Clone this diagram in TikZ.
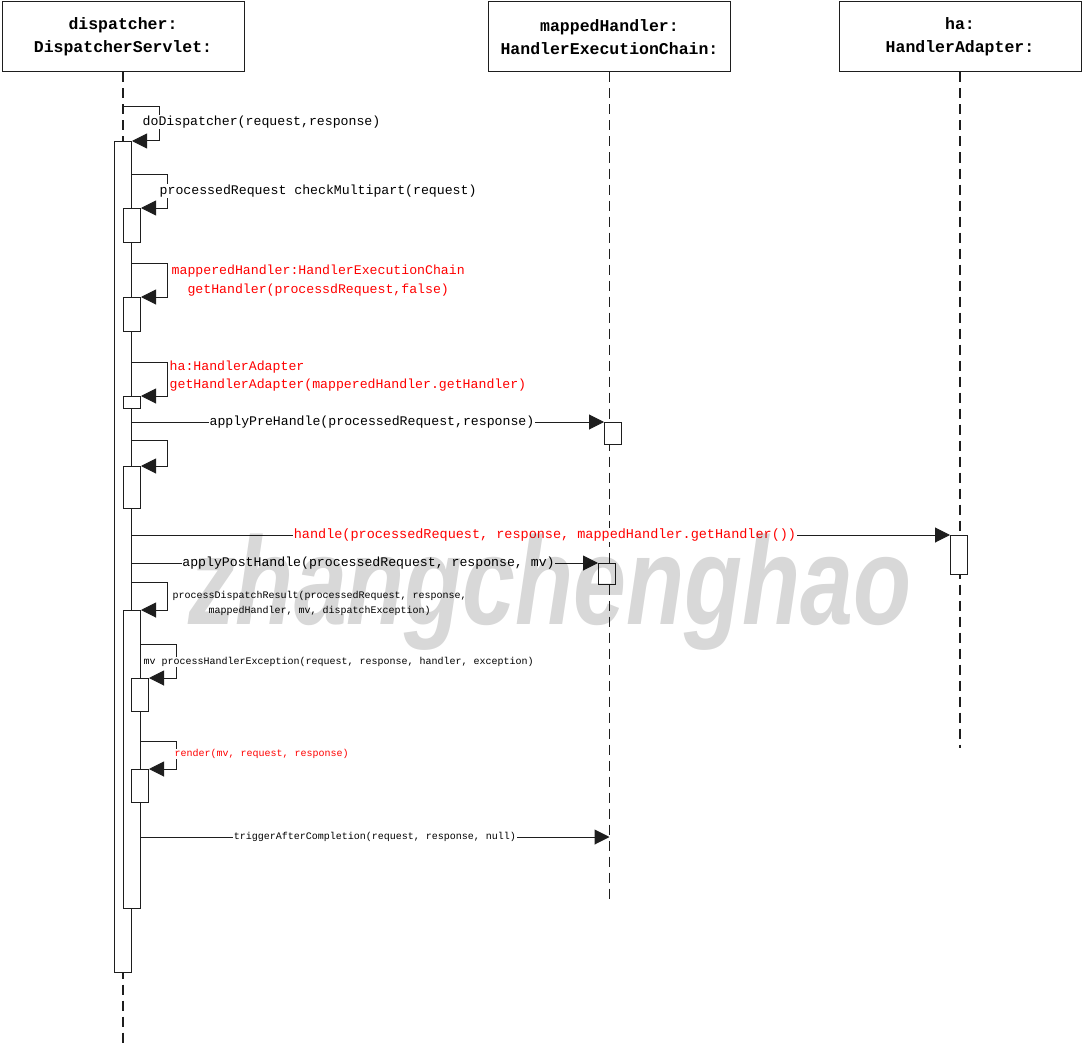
\documentclass[tikz,border=0pt]{standalone}
\usepackage{fontspec}
\setmainfont{Liberation Mono}
\newfontfamily\wmfont{Liberation Sans}
\usetikzlibrary{arrows.meta}
\definecolor{msgred}{RGB}{255,0,0}
\definecolor{wmgray}{RGB}{216,216,216}
\definecolor{ln}{RGB}{30,30,30}
\begin{document}
\begin{tikzpicture}[x=1pt,y=-1pt,
  hdr/.style={draw=ln, line width=1pt, minimum width=242pt, minimum height=70pt, align=center,
    font=\fontsize{16.5}{23}\selectfont\bfseries, inner sep=0pt},
  life/.style={draw=ln, dash pattern=on 10pt off 6pt, line width=1.4pt},
  actbar/.style={draw=ln, fill=white, line width=1pt, minimum width=17pt, inner sep=0pt, anchor=north west},
  msg/.style={draw=ln, line width=1pt, -{Triangle[length=15pt,width=15pt]}},
  lbl/.style={font=\fontsize{13.2}{18}\selectfont, inner sep=0.5pt, fill=white},
  slbl/.style={font=\fontsize{10}{15}\selectfont, inner sep=0.5pt, fill=white},
  redtxt/.style={text=msgred}
]
\useasboundingbox (0,0) rectangle (1084,1046);

% headers
\node[hdr] (h1) at (123,37) {dispatcher:\\DispatcherServlet:};
\node[hdr] (h2) at (609.5,37) {mappedHandler:\\HandlerExecutionChain:};
\node[hdr] (h3) at (960,37) {ha:\\HandlerAdapter:};

% lifelines
\coordinate (e1) at (123,1046);
\coordinate (e2) at (609.5,903);
\coordinate (e3) at (960,748);
\draw[life] (h1.south) -- (e1);
\draw[life] (h2.south) -- (e2);
\draw[life] (h3.south) -- (e3);

% activation bars
\node[actbar, minimum height=831pt] (main) at (114,141) {};
\node[actbar, minimum height=34pt] (b1) at (123,208) {};
\node[actbar, minimum height=34pt] (b2) at (123,297) {};
\node[actbar, minimum height=12pt] (b3) at (123,396) {};
\node[actbar, minimum height=22pt] (b4) at (604,422) {};
\node[actbar, minimum height=42pt] (b5) at (123,466) {};
\node[actbar, minimum height=39pt] (b6) at (950,535) {};
\node[actbar, minimum height=21pt] (b7) at (598,563) {};
\node[actbar, minimum height=298pt] (b8) at (123,610) {};
\node[actbar, minimum height=33pt] (b9) at (131,678) {};
\node[actbar, minimum height=33pt] (b10) at (131,769) {};

% message start points
\coordinate (c1) at (123,107);
\coordinate (c2) at (131,174);
\coordinate (c3) at (131,263);
\coordinate (c4) at (131,362);
\coordinate (c5) at (131,422);
\coordinate (c6) at (131,440);
\coordinate (c7) at (131,535);
\coordinate (c8) at (131,563);
\coordinate (c9) at (131,582);
\coordinate (c10) at (140,644);
\coordinate (c11) at (140,741);
\coordinate (c12) at (140,837);
\coordinate (t12) at (609.5,837);

% self calls
\draw[msg] (c1) -- ++(36,0) |- (main.north east);
\draw[msg] (c2) -- ++(36,0) |- (b1.north east);
\draw[msg] (c3) -- ++(36,0) |- (b2.north east);
\draw[msg] (c4) -- ++(36,0) |- (b3.north east);
\draw[msg] (c6) -- ++(36,0) |- (b5.north east);
\draw[msg] (c9) -- ++(36,0) |- (b8.north east);
\draw[msg] (c10) -- ++(36,0) |- (b9.north east);
\draw[msg] (c11) -- ++(36,0) |- (b10.north east);

% messages to other lifelines
\draw[msg] (c5) -- (b4.north west);
\draw[msg] (c7) -- (b6.north west);
\draw[msg] (c8) -- (b7.north west);
\draw[msg] (c12) -- (t12);

% labels
\node[lbl, anchor=west] (l1) at (142,122) {doDispatcher(request,response)};
\node[lbl, anchor=west] (l2) at (159,191) {processedRequest checkMultipart(request)};
\node[lbl, anchor=west, redtxt, align=center, font=\fontsize{13.2}{19}\selectfont] (l3) at (171,281)
  {mapperedHandler:HandlerExecutionChain\\getHandler(processdRequest,false)};
\node[lbl, anchor=west, redtxt, align=left] (l4) at (169,376)
  {ha:HandlerAdapter\\getHandlerAdapter(mapperedHandler.getHandler)};
\node[lbl] (l5) at (372,422) {applyPreHandle(processedRequest,response)};
\node[lbl, redtxt, font=\fontsize{13.5}{18}\selectfont] (l6) at (545,535)
  {handle(processedRequest, response, mappedHandler.getHandler())};
\node[lbl] (l7) at (368.5,563) {applyPostHandle(processedRequest, response, mv)};
\node[slbl, anchor=west, align=center] (l8) at (172,603)
  {processDispatchResult(processedRequest, response,\\mappedHandler, mv, dispatchException)};
\node[slbl, anchor=west] (l9) at (143,662) {mv processHandlerException(request, response, handler, exception)};
\node[slbl, anchor=west, redtxt] (l10) at (174,754) {render(mv, request, response)};
\node[slbl] (l11) at (375,837) {triggerAfterCompletion(request, response, null)};

% watermark
\begin{scope}[blend mode=multiply]
\node[text=wmgray, font=\wmfont\fontsize{125}{125}\selectfont\bfseries\itshape, xscale=0.76, inner sep=0pt] (wm) at (550,592) {zhangchenghao};
\end{scope}
\end{tikzpicture}
\end{document}
